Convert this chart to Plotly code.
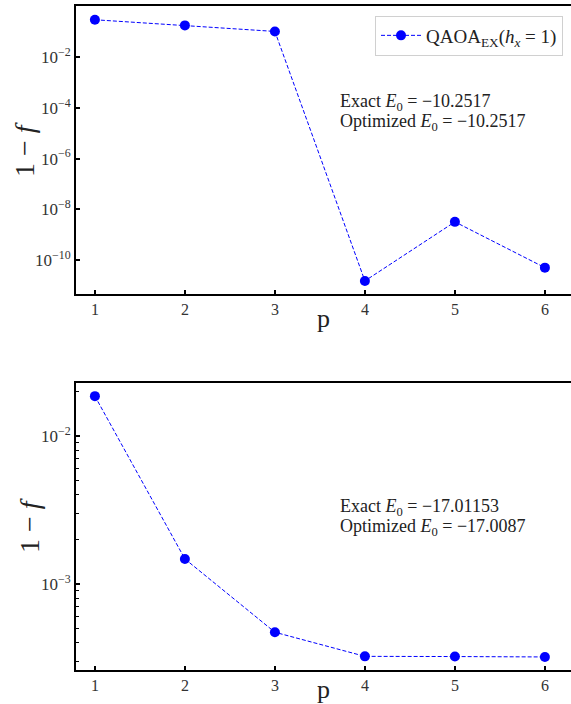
import plotly.graph_objects as go

# ---- data ----
p_values = [1, 2, 3, 4, 5, 6]
infidelity_top = [0.30, 0.18, 0.104, 1.5e-11, 3.2e-9, 5.0e-11]
infidelity_bottom = [0.0185, 1.47e-3, 4.7e-4, 3.23e-4, 3.22e-4, 3.2e-4]
series_name = "QAOA<sub>EX</sub>(<i>h<sub>x</sub></i> = 1)"
top_note = ["Exact <i>E</i><sub>0</sub> = −10.2517", "Optimized <i>E</i><sub>0</sub> = −10.2517"]
bottom_note = ["Exact <i>E</i><sub>0</sub> = −17.01153", "Optimized <i>E</i><sub>0</sub> = −17.0087"]
top_yticks = [1e-2, 1e-4, 1e-6, 1e-8, 1e-10]
top_yticktext = ["10<sup>−2</sup>", "10<sup>−4</sup>", "10<sup>−6</sup>", "10<sup>−8</sup>", "10<sup>−10</sup>"]
bottom_yticks = [1e-2, 1e-3]
bottom_yticktext = ["10<sup>−2</sup>", "10<sup>−3</sup>"]
bottom_minor = [m * 1e-4 for m in range(3, 10)] + [m * 1e-3 for m in range(2, 10)] + [2e-2]

W, H = 571, 704
FONT = "Liberation Serif"
BLUE = "#0000ff"

fig = go.Figure()
for i, (ys, ax) in enumerate([(infidelity_top, ("x", "y")), (infidelity_bottom, ("x2", "y2"))]):
    fig.add_trace(go.Scatter(
        x=p_values, y=ys, xaxis=ax[0], yaxis=ax[1], mode="lines+markers",
        name=series_name, showlegend=(i == 0),
        line=dict(color=BLUE, width=1, dash="4px,2px"),
        marker=dict(color=BLUE, size=10, symbol="circle"),
    ))

def px_y(y):
    return 1 - y / H

def px_x(x):
    return x / W

xcommon = dict(
    range=[0.79, 6.29], tickvals=p_values, ticktext=[str(v) for v in p_values],
    ticks="inside", ticklen=4, tickwidth=1.5, tickcolor="black",
    showline=True, linewidth=2, linecolor="black", mirror=True,
    showgrid=False, zeroline=False,
    tickfont=dict(family=FONT, size=16, color="#333333"),
)
ycommon = dict(
    type="log", ticks="inside", ticklen=4, tickwidth=1.5, tickcolor="black",
    showline=True, linewidth=2, linecolor="black", mirror=False,
    showgrid=False, zeroline=False,
    tickfont=dict(family=FONT, size=17, color="#333333"),
)

fig.update_layout(
    width=W, height=H, margin=dict(l=0, r=0, t=0, b=0),
    plot_bgcolor="white", paper_bgcolor="white",
    xaxis=dict(domain=[px_x(76), 1.0], anchor="y", **xcommon),
    yaxis=dict(domain=[px_y(294), px_y(6)], anchor="x",
               range=[-11.34, 0.02], tickvals=top_yticks, ticktext=top_yticktext, **ycommon),
    xaxis2=dict(domain=[px_x(76), 1.0], anchor="y2", **xcommon),
    yaxis2=dict(domain=[px_y(670), px_y(382.7)], anchor="x2",
                range=[-3.583, -1.642], tickvals=bottom_yticks, ticktext=bottom_yticktext,
                minor=dict(tickvals=bottom_minor, ticks="inside", ticklen=2.5, tickwidth=1, tickcolor="black"),
                **ycommon),
    showlegend=True,
    legend=dict(
        x=px_x(563), y=px_y(15.5), xanchor="right", yanchor="top",
        bgcolor="white", bordercolor="#d0d0d0", borderwidth=1, itemwidth=40,
        font=dict(family=FONT, size=19, color="#222222"),
    ),
)

anns = []
for yc, lines in [(102.5, top_note), (507, bottom_note)]:
    for k, line in enumerate(lines):
        anns.append(dict(
            text=line, x=px_x(338), y=px_y(yc + 20.5 * k), xref="paper", yref="paper",
            xanchor="left", yanchor="middle", showarrow=False, align="left",
            font=dict(family=FONT, size=18, color="#222222"),
        ))
# axis titles
for yc, xc in [(150, 24), (526, 29)]:
    anns.append(dict(
        text="1 − <i>f</i>", x=px_x(xc), y=px_y(yc), xref="paper", yref="paper",
        xanchor="center", yanchor="middle", textangle=-90, showarrow=False,
        font=dict(family=FONT, size=28, color="#222222"),
    ))
for yc in [318, 689]:
    anns.append(dict(
        text="p", x=px_x(323.5), y=px_y(yc), xref="paper", yref="paper",
        xanchor="center", yanchor="middle", showarrow=False,
        font=dict(family=FONT, size=26, color="#222222"),
    ))
fig.update_layout(annotations=anns)

fig.write_html("out.html", config={"displayModeBar": False},
               post_script="document.body.style.margin='0';")
